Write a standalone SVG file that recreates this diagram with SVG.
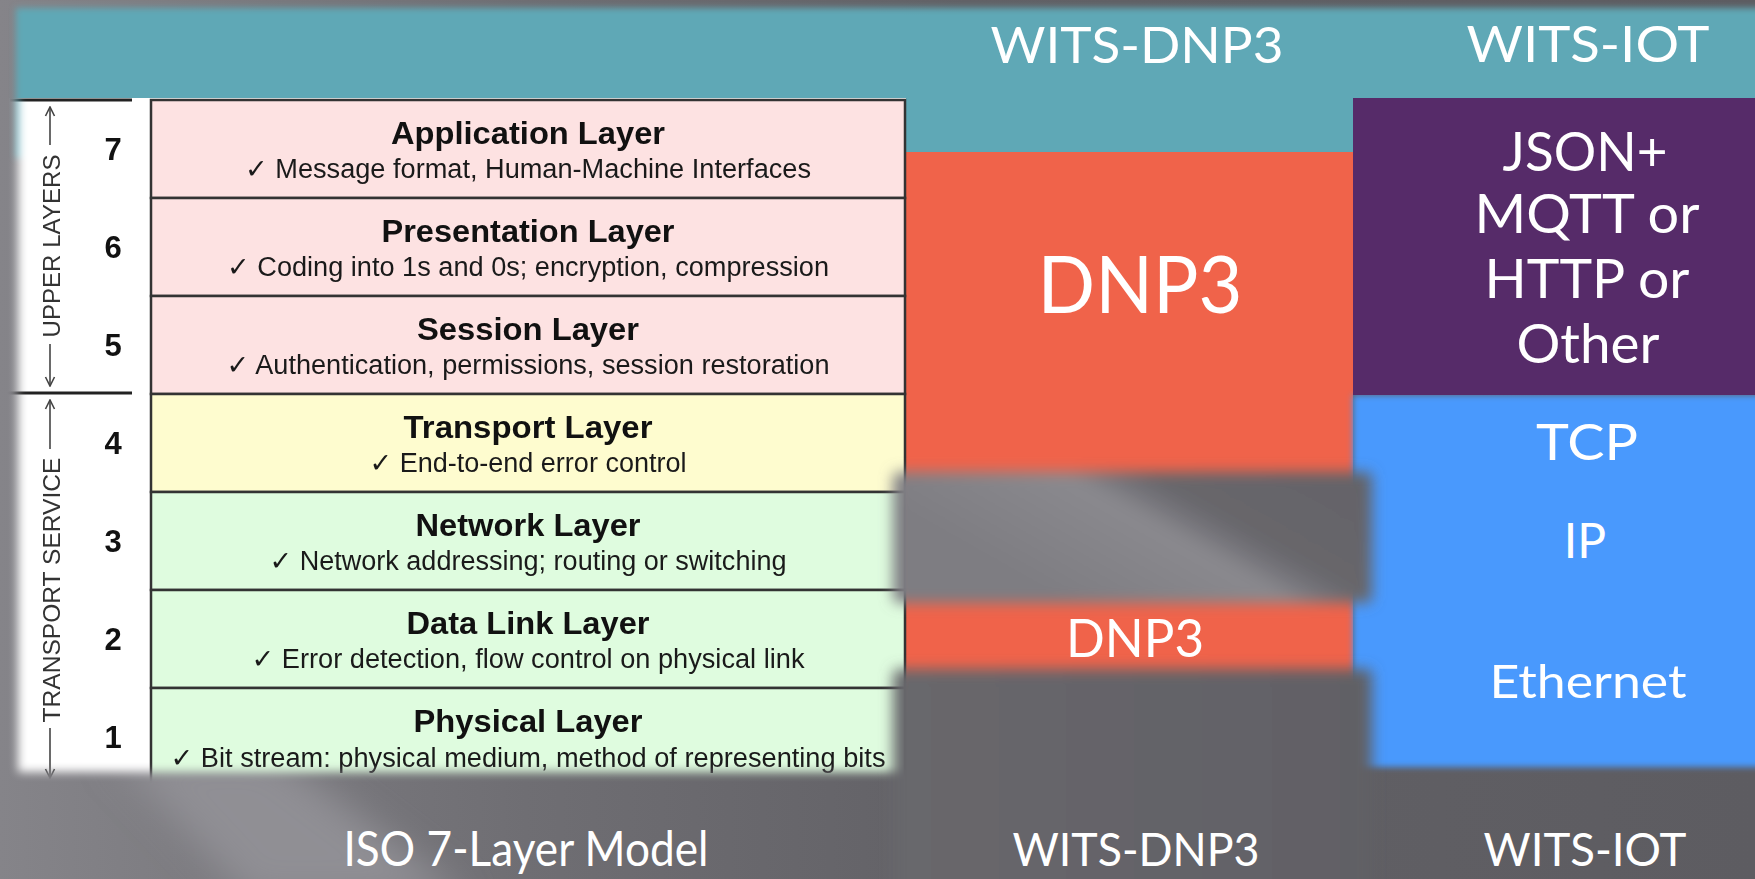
<svg xmlns="http://www.w3.org/2000/svg" width="1755" height="879" viewBox="0 0 1755 879">
  <defs>
    <style>
      .cell { stroke: #333; stroke-width: 2.5; }
      .pink { fill: #fde2e2; }
      .yellow { fill: #fefccf; }
      .green { fill: #dffcdf; }
      .title { font-family: "Liberation Sans", Arial, sans-serif; font-weight: bold; font-size: 32px; fill: #111; text-anchor: middle; }
      .desc { font-family: "Liberation Sans", "DejaVu Sans", Arial, sans-serif; font-size: 27px; fill: #1a1a1a; text-anchor: middle; }
      .num { font-family: "Liberation Sans", Arial, sans-serif; font-weight: bold; font-size: 31px; fill: #111; text-anchor: middle; }
      .side { font-family: "Liberation Sans", Arial, sans-serif; font-size: 24px; fill: #333; text-anchor: middle; }
      .rule { stroke: #222; stroke-width: 3; }
      .arrow { stroke: #444; stroke-width: 1.6; fill: none; marker-end: url(#tip); }
      .white { font-family: Lato, "Open Sans", "Liberation Sans", sans-serif; fill: #fff; text-anchor: middle; }
    </style>

    <!-- soft-edge filters -->
    <filter id="soft3" filterUnits="userSpaceOnUse" x="0" y="-20" width="1800" height="920">
      <feGaussianBlur stdDeviation="3"/>
    </filter>
    <filter id="soft7" filterUnits="userSpaceOnUse" x="0" y="0" width="1800" height="920">
      <feGaussianBlur stdDeviation="7"/>
    </filter>
    <filter id="soft18" filterUnits="userSpaceOnUse" x="-100" y="0" width="1900" height="1000">
      <feGaussianBlur stdDeviation="18"/>
    </filter>
    <filter id="fadeBlur" filterUnits="userSpaceOnUse" x="-50" y="0" width="1100" height="900">
      <feGaussianBlur stdDeviation="5"/>
    </filter>

    <!-- background shading -->
    <linearGradient id="bgBase" gradientUnits="userSpaceOnUse" x1="0" y1="0" x2="1755" y2="0">
      <stop offset="0" stop-color="#858489"/>
      <stop offset="0.3" stop-color="#6f6e73"/>
      <stop offset="0.55" stop-color="#626166"/>
      <stop offset="1" stop-color="#5d5c61"/>
    </linearGradient>
    <linearGradient id="band1Fill" gradientUnits="userSpaceOnUse" x1="1150" y1="650" x2="1280" y2="420">
      <stop offset="0" stop-color="#7e7d82"/>
      <stop offset="0.42" stop-color="#8a898e"/>
      <stop offset="0.5" stop-color="#75747a"/>
      <stop offset="0.58" stop-color="#67666b"/>
      <stop offset="1" stop-color="#646368"/>
    </linearGradient>
    <linearGradient id="band2Fill" gradientUnits="userSpaceOnUse" x1="893" y1="0" x2="1372" y2="0">
      <stop offset="0" stop-color="#68676c"/>
      <stop offset="1" stop-color="#616065"/>
    </linearGradient>

    <!-- feathered outline of the layer table -->
    <mask id="panelFade" maskUnits="userSpaceOnUse" x="0" y="0" width="1755" height="879">
      <rect x="18" y="40" width="960" height="732" fill="#fff" filter="url(#fadeBlur)"/>
    </mask>

    <marker id="tip" viewBox="0 0 12 12" refX="11" refY="6" markerWidth="12" markerHeight="12" orient="auto" markerUnits="userSpaceOnUse">
      <path d="M2,1.5 L11,6 L2,10.5" fill="none" stroke="#444" stroke-width="1.6"/>
    </marker>
  </defs>

  <!-- background -->
  <g id="background">
    <rect width="1755" height="879" fill="url(#bgBase)"/>
    <polygon points="110,750 270,750 470,900 250,900" fill="#908f94" filter="url(#soft18)"/>
  </g>

  <!-- header band -->
  <g id="header-band">
    <rect x="16" y="8" width="1780" height="150" fill="#5fa8b6" filter="url(#soft3)"/>
  </g>

  <!-- WITS-DNP3 stack -->
  <g id="dnp3-column">
    <rect x="905" y="152" width="448" height="560" fill="#f0634a"/>
  </g>

  <!-- WITS-IOT stack -->
  <g id="iot-transport">
    <rect x="1353" y="395" width="460" height="372" fill="#4a99fd" filter="url(#soft3)"/>
  </g>
  <g id="iot-application">
    <rect x="1353" y="98" width="402" height="297" fill="#562b69"/>
  </g>

  <!-- ISO 7-layer table -->
  <g id="iso-table" mask="url(#panelFade)">
    <rect x="0" y="98" width="906" height="700" fill="#fff"/>
    <line class="rule" x1="10" y1="100" x2="132" y2="100"/>
    <line class="rule" x1="7" y1="393" x2="132" y2="393"/>

    <g id="layer-7">
      <rect class="cell pink" x="151" y="100" width="754" height="98"/>
      <text class="num" x="113" y="160">7</text>
      <text class="title" x="528" y="144" textLength="274" lengthAdjust="spacingAndGlyphs">Application Layer</text>
      <text class="desc" x="528" y="178" textLength="566" lengthAdjust="spacingAndGlyphs">✓ Message format, Human-Machine Interfaces</text>
    </g>
    <g id="layer-6">
      <rect class="cell pink" x="151" y="198" width="754" height="98"/>
      <text class="num" x="113" y="258">6</text>
      <text class="title" x="528" y="242" textLength="293" lengthAdjust="spacingAndGlyphs">Presentation Layer</text>
      <text class="desc" x="528" y="276" textLength="602" lengthAdjust="spacingAndGlyphs">✓ Coding into 1s and 0s; encryption, compression</text>
    </g>
    <g id="layer-5">
      <rect class="cell pink" x="151" y="296" width="754" height="98"/>
      <text class="num" x="113" y="356">5</text>
      <text class="title" x="528" y="340" textLength="222" lengthAdjust="spacingAndGlyphs">Session Layer</text>
      <text class="desc" x="528" y="374" textLength="603" lengthAdjust="spacingAndGlyphs">✓ Authentication, permissions, session restoration</text>
    </g>
    <g id="layer-4">
      <rect class="cell yellow" x="151" y="394" width="754" height="98"/>
      <text class="num" x="113" y="454">4</text>
      <text class="title" x="528" y="438" textLength="249" lengthAdjust="spacingAndGlyphs">Transport Layer</text>
      <text class="desc" x="528" y="472" textLength="317" lengthAdjust="spacingAndGlyphs">✓ End-to-end error control</text>
    </g>
    <g id="layer-3">
      <rect class="cell green" x="151" y="492" width="754" height="98"/>
      <text class="num" x="113" y="552">3</text>
      <text class="title" x="528" y="536" textLength="225" lengthAdjust="spacingAndGlyphs">Network Layer</text>
      <text class="desc" x="528" y="570" textLength="517" lengthAdjust="spacingAndGlyphs">✓ Network addressing; routing or switching</text>
    </g>
    <g id="layer-2">
      <rect class="cell green" x="151" y="590" width="754" height="98"/>
      <text class="num" x="113" y="650">2</text>
      <text class="title" x="528" y="634" textLength="243" lengthAdjust="spacingAndGlyphs">Data Link Layer</text>
      <text class="desc" x="528" y="668" textLength="553" lengthAdjust="spacingAndGlyphs">✓ Error detection, flow control on physical link</text>
    </g>
    <g id="layer-1">
      <rect class="cell green" x="151" y="688" width="754" height="98"/>
      <text class="num" x="113" y="748">1</text>
      <text class="title" x="528" y="732" textLength="229" lengthAdjust="spacingAndGlyphs">Physical Layer</text>
      <text class="desc" x="528" y="767" textLength="715" lengthAdjust="spacingAndGlyphs">✓ Bit stream: physical medium, method of representing bits</text>
    </g>

    <g id="group-labels">
      <text class="side" transform="translate(60,246) rotate(-90)" textLength="183" lengthAdjust="spacingAndGlyphs">UPPER LAYERS</text>
      <text class="side" transform="translate(60,590) rotate(-90)" textLength="265" lengthAdjust="spacingAndGlyphs">TRANSPORT SERVICE</text>
    </g>

    <g id="connectors">
      <line class="arrow" x1="50" y1="145" x2="50" y2="107"/>
      <line class="arrow" x1="50" y1="344" x2="50" y2="386"/>
      <line class="arrow" x1="50" y1="449" x2="50" y2="400"/>
      <line class="arrow" x1="50" y1="728" x2="50" y2="778"/>
    </g>
  </g>

  <!-- gaps in the DNP3 stack (layers 3 and 1) -->
  <g id="dnp3-gaps">
    <rect x="893" y="472" width="479" height="131" rx="6" fill="url(#band1Fill)" filter="url(#soft7)"/>
    <rect x="893" y="669" width="479" height="260" rx="6" fill="url(#band2Fill)" filter="url(#soft7)"/>
  </g>

  <!-- labels -->
  <g id="header-labels">
    <text class="white" x="1137" y="63" font-size="50" textLength="293" lengthAdjust="spacingAndGlyphs">WITS-DNP3</text>
    <text class="white" x="1588" y="62" font-size="51" textLength="243" lengthAdjust="spacingAndGlyphs">WITS-IOT</text>
  </g>
  <g id="dnp3-labels">
    <text class="white" x="1140" y="313" font-size="80" textLength="205" lengthAdjust="spacingAndGlyphs">DNP3</text>
    <text class="white" x="1135" y="657" font-size="52" textLength="138" lengthAdjust="spacingAndGlyphs">DNP3</text>
  </g>
  <g id="iot-labels">
    <text class="white" x="1585" y="171" font-size="55" textLength="165" lengthAdjust="spacingAndGlyphs">JSON+</text>
    <text class="white" x="1587" y="233" font-size="55" textLength="225" lengthAdjust="spacingAndGlyphs">MQTT or</text>
    <text class="white" x="1587" y="298" font-size="55" textLength="205" lengthAdjust="spacingAndGlyphs">HTTP or</text>
    <text class="white" x="1588" y="363" font-size="55" textLength="143" lengthAdjust="spacingAndGlyphs">Other</text>
    <text class="white" x="1587" y="460" font-size="50" textLength="102" lengthAdjust="spacingAndGlyphs">TCP</text>
    <text class="white" x="1585" y="558" font-size="48">IP</text>
    <text class="white" x="1588" y="698" font-size="46" textLength="197" lengthAdjust="spacingAndGlyphs">Ethernet</text>
  </g>
  <g id="footer-labels">
    <text class="white" x="526" y="866" font-size="48" textLength="365" lengthAdjust="spacingAndGlyphs">ISO 7-Layer Model</text>
    <text class="white" x="1136" y="866" font-size="46" textLength="247" lengthAdjust="spacingAndGlyphs">WITS-DNP3</text>
    <text class="white" x="1585" y="866" font-size="46" textLength="203" lengthAdjust="spacingAndGlyphs">WITS-IOT</text>
  </g>
</svg>
